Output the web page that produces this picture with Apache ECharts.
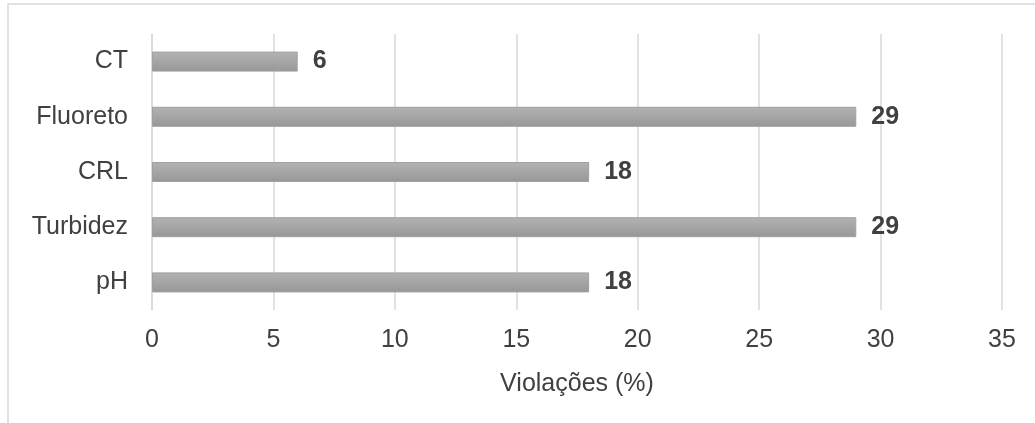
<!DOCTYPE html>
<html>
<head>
<meta charset="utf-8">
<script src="https://cdn.jsdelivr.net/npm/echarts@6/dist/echarts.min.js"></script>
<style>
  html, body { margin: 0; padding: 0; background: #fff; }
  #chart { width: 1035px; height: 423px; }
</style>
</head>
<body>
<div id="chart"></div>
<script>
// categories top to bottom
const categories = ['CT', 'Fluoreto', 'CRL', 'Turbidez', 'pH']
const violacoes = [6, 29, 18, 29, 18]
const xTicks = [0, 35, 5] // min, max, interval

const chart = echarts.init(document.getElementById('chart'))

const option = {
    backgroundColor: '#fff',
    animation: false,
    textStyle: { fontFamily: 'Liberation Sans, Arial, sans-serif' },
    graphic: [{
        type: 'rect',
        shape: { x: 8, y: 4, width: 1200, height: 600 },
        style: { fill: 'none', stroke: '#d9d9d9', lineWidth: 1.5 },
        silent: true
    }],
    grid: { left: 152, right: 33, top: 34, bottom: 113, containLabel: false },
    xAxis: {
        type: 'value',
        min: xTicks[0],
        max: xTicks[1],
        interval: xTicks[2],
        name: 'Violações (%)',
        nameLocation: 'middle',
        nameGap: 62,
        nameTextStyle: { fontSize: 25, color: '#404040' },
        axisLine: { show: false },
        axisTick: { show: false },
        axisLabel: { fontSize: 25, color: '#404040', margin: 18 },
        splitLine: { lineStyle: { color: '#d9d9d9', width: 1.5 } }
    },
    yAxis: {
        type: 'category',
        inverse: true,
        data: categories,
        axisLine: { show: true, lineStyle: { color: '#d9d9d9', width: 1.5 } },
        axisTick: { show: false },
        axisLabel: { fontSize: 25, color: '#404040', margin: 24 }
    },
    series: [{
        type: 'bar',
        data: violacoes,
        barWidth: 20,
        itemStyle: {
            color: new echarts.graphic.LinearGradient(0, 0, 0, 1, [
                { offset: 0, color: '#b3b3b3' },
                { offset: 1, color: '#979797' }
            ]),
            borderColor: '#a0a0a0',
            borderWidth: 1
        },
        label: {
            show: true,
            position: 'right',
            distance: 15,
            fontSize: 25,
            fontWeight: 'bold',
            color: '#404040'
        }
    }]
}

chart.setOption(option)
</script>
</body>
</html>
